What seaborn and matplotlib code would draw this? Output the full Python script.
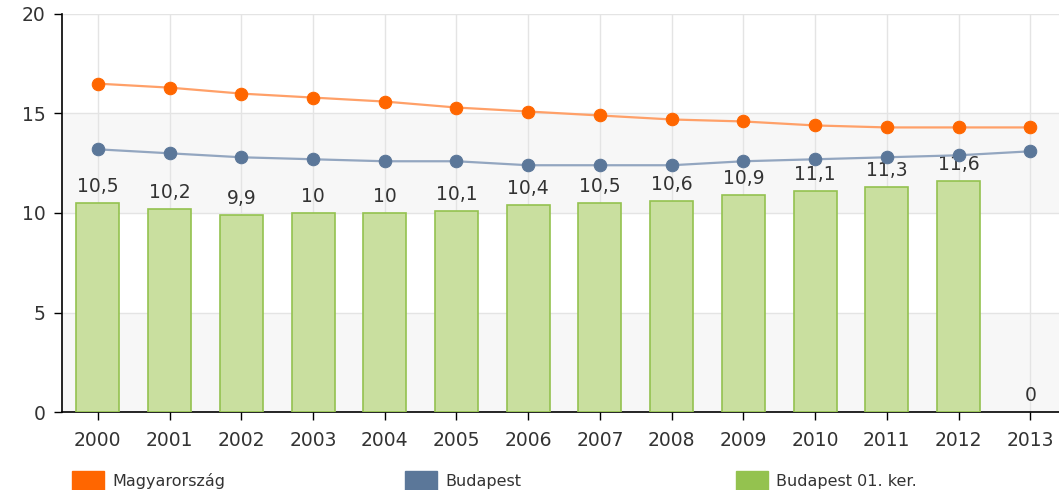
import numpy as np
import pandas as pd
import matplotlib
matplotlib.use("Agg")
import matplotlib.pyplot as plt
import matplotlib.patches as mpatches
import seaborn as sns

years = [str(y) for y in range(2000, 2014)]
magyarorszag = [16.5, 16.3, 16.0, 15.8, 15.6, 15.3, 15.1, 14.9, 14.7, 14.6, 14.4, 14.3, 14.3, 14.3]
budapest = [13.2, 13.0, 12.8, 12.7, 12.6, 12.6, 12.4, 12.4, 12.4, 12.6, 12.7, 12.8, 12.9, 13.1]
bp01 = [10.5, 10.2, 9.9, 10.0, 10.0, 10.1, 10.4, 10.5, 10.6, 10.9, 11.1, 11.3, 11.6, 0.0]
series_names = ["Magyarország", "Budapest", "Budapest 01. ker."]

sns.set_style("white")
plt.rcParams['font.family'] = ['DejaVu Sans']

fig = plt.figure(figsize=(10.59, 4.90), dpi=100)
ax = fig.add_axes([62 / 1059, 1 - 412 / 490, 1 - 62 / 1059, (412 - 14) / 490])

df = pd.DataFrame({"year": years, "value": bp01})
sns.barplot(data=df, x="year", y="value", ax=ax, color="#c9df9f", width=0.6,
            edgecolor="#94c24f", linewidth=1.2, saturation=1, zorder=3)
for p, v in zip(ax.containers[0], bp01):
    if v == 0:
        p.set_linewidth(0)

labels = [f"{v:g}".replace(".", ",") for v in bp01]
ax.bar_label(ax.containers[0], labels=labels, padding=5, fontsize=13.5, color="#333333")

pos = np.arange(len(years))
sns.lineplot(x=pos, y=budapest, ax=ax, color="#93a6c0", lw=1.6, marker="o", markersize=9,
             markerfacecolor="#5b7799", markeredgecolor="#5b7799", zorder=4)
sns.lineplot(x=pos, y=magyarorszag, ax=ax, color="#ffa068", lw=1.6, marker="o", markersize=9,
             markerfacecolor="#ff6600", markeredgecolor="#ff6600", zorder=4)

# background bands and grid
ax.axhspan(0, 5, color="#f7f7f7", zorder=0, lw=0)
ax.axhspan(10, 15, color="#f7f7f7", zorder=0, lw=0)
for yv in [5, 10, 15, 20]:
    ax.axhline(yv, color="#e4e4e4", lw=1, zorder=1)
for xv in pos:
    ax.axvline(xv, color="#e4e4e4", lw=1, zorder=1)

ax.set_ylim(0, 20)
ax.set_xlim(-0.5, 13.4)
ax.set_yticks([0, 5, 10, 15, 20])
ax.set_xlabel("")
ax.set_ylabel("")
for s in ["top", "right"]:
    ax.spines[s].set_visible(False)
ax.spines["left"].set_color("#000000")
ax.spines["bottom"].set_color("#000000")
ax.spines["left"].set_linewidth(1.2)
ax.spines["bottom"].set_linewidth(1.2)
ax.tick_params(axis="both", direction="out", length=6, width=1, color="#000000",
               labelsize=13.5, labelcolor="#333333", left=True, bottom=True)
ax.tick_params(axis="x", pad=8)
ax.tick_params(axis="y", pad=6)

# legend
colors = ["#ff6600", "#5b7799", "#94c24f"]
xs = [72, 405, 736]
for name, c, x in zip(series_names, colors, xs):
    h = mpatches.Patch(facecolor=c, edgecolor=c)
    fig.legend(handles=[h], labels=[name], loc="center left",
               bbox_to_anchor=(x / 1059, 1 - 481 / 490), frameon=False,
               borderpad=0, borderaxespad=0,
               fontsize=11.5, handlelength=2.0, handleheight=1.6, handletextpad=0.5,
               labelcolor="#333333")

fig.savefig("out.png", dpi=100)
